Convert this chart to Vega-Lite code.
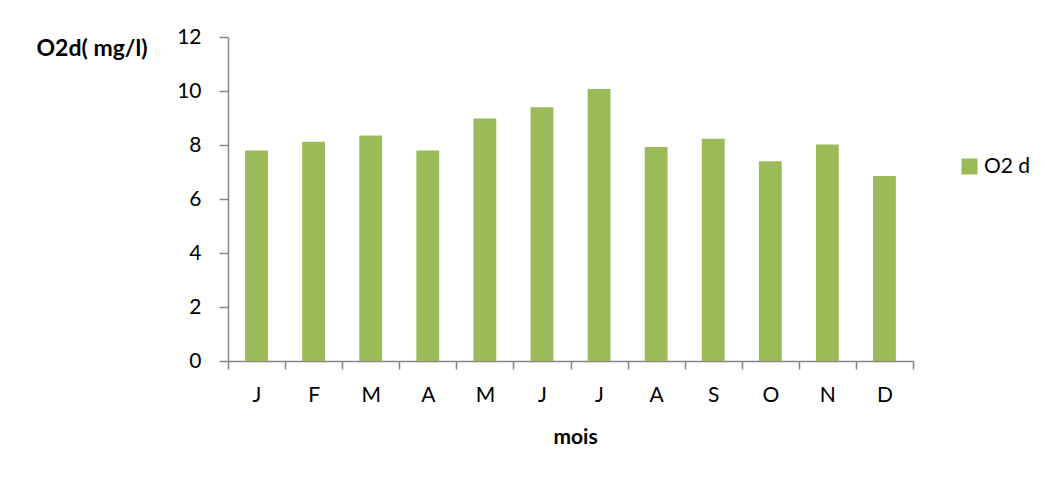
{
  "$schema": "https://vega.github.io/schema/vega-lite/v6.json",
  "autosize": "none",
  "width": 685,
  "height": 324,
  "padding": {"left": 228, "top": 37, "right": 132, "bottom": 118},
  "background": "white",
  "data": {
    "values": [
      {"ordre": 1, "mois": "J", "o2d": 7.8, "serie": "O2 d"},
      {"ordre": 2, "mois": "F", "o2d": 8.12, "serie": "O2 d"},
      {"ordre": 3, "mois": "M", "o2d": 8.35, "serie": "O2 d"},
      {"ordre": 4, "mois": "A", "o2d": 7.8, "serie": "O2 d"},
      {"ordre": 5, "mois": "M", "o2d": 8.98, "serie": "O2 d"},
      {"ordre": 6, "mois": "J", "o2d": 9.4, "serie": "O2 d"},
      {"ordre": 7, "mois": "J", "o2d": 10.07, "serie": "O2 d"},
      {"ordre": 8, "mois": "A", "o2d": 7.93, "serie": "O2 d"},
      {"ordre": 9, "mois": "S", "o2d": 8.23, "serie": "O2 d"},
      {"ordre": 10, "mois": "O", "o2d": 7.4, "serie": "O2 d"},
      {"ordre": 11, "mois": "N", "o2d": 8.02, "serie": "O2 d"},
      {"ordre": 12, "mois": "D", "o2d": 6.85, "serie": "O2 d"}
    ]
  },
  "mark": {"type": "bar", "width": {"band": 0.4}},
  "encoding": {
    "x": {
      "field": "ordre",
      "type": "ordinal",
      "scale": {"paddingInner": 0, "paddingOuter": 0},
      "axis": {
        "title": "mois",
        "titleFont": "Lato",
        "titleFontSize": 21,
        "titleFontWeight": "bold",
        "titleColor": "black",
        "titlePadding": 21,
        "titleX": 347,
        "labelExpr": "['J','F','M','A','M','J','J','A','S','O','N','D'][datum.value-1]",
        "labelAngle": 0,
        "labelFont": "Lato",
        "labelFontSize": 21,
        "labelColor": "black",
        "labelPadding": 15,
        "tickBand": "extent",
        "tickSize": 8,
        "tickColor": "#868686",
        "tickWidth": 1.5,
        "domainColor": "#868686",
        "domainWidth": 1.5,
        "grid": false
      }
    },
    "y": {
      "field": "o2d",
      "type": "quantitative",
      "scale": {"domain": [0, 12]},
      "axis": {
        "title": "O2d( mg/l)",
        "titleAngle": 0,
        "titleAlign": "left",
        "titleBaseline": "middle",
        "titleX": -192,
        "titleY": 11,
        "titleFont": "Lato",
        "titleFontSize": 23,
        "titleFontWeight": "bold",
        "titleColor": "black",
        "values": [0, 2, 4, 6, 8, 10, 12],
        "labelFont": "Lato",
        "labelFontSize": 21,
        "labelColor": "black",
        "labelPadding": 18,
        "tickSize": 9,
        "tickColor": "#868686",
        "tickWidth": 1.5,
        "domainColor": "#868686",
        "domainWidth": 1.5,
        "grid": false
      }
    },
    "color": {
      "field": "serie",
      "type": "nominal",
      "scale": {"range": ["#9BBB59"]},
      "legend": {
        "title": null,
        "orient": "none",
        "legendX": 731,
        "legendY": 119,
        "symbolType": "square",
        "symbolSize": 256,
        "symbolStrokeWidth": 0,
        "labelFont": "Lato",
        "labelFontSize": 21,
        "labelColor": "black",
        "labelOffset": 4
      }
    }
  },
  "config": {"view": {"stroke": null}}
}
